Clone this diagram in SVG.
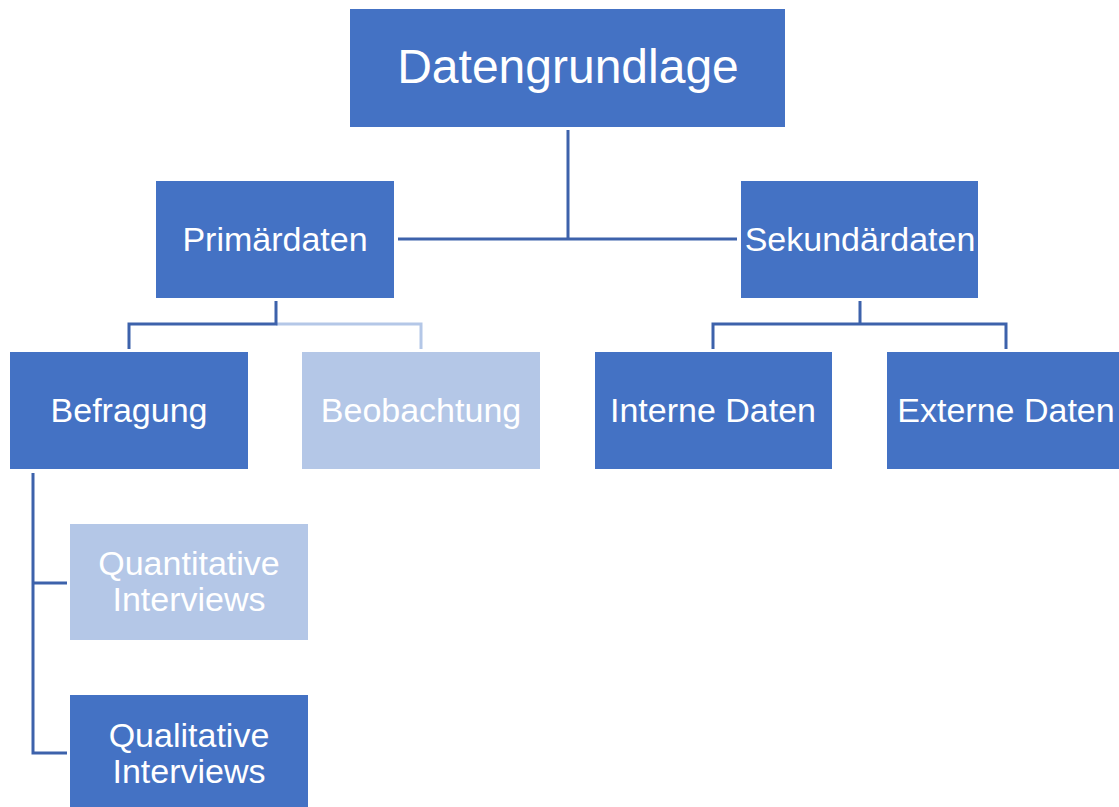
<svg xmlns="http://www.w3.org/2000/svg" width="1119" height="807" viewBox="0 0 1119 807">
<style>
.d{fill:#4472c4}
.l{fill:#b4c7e7}
text{font-family:"Liberation Sans",Arial,sans-serif;fill:#ffffff;text-anchor:middle;font-size:34px}
.c{fill:none;stroke:#3d62ab;stroke-width:3}
.cl{fill:none;stroke:#b4c7e7;stroke-width:3}
</style>
<rect width="1119" height="807" fill="#ffffff"/>
<g id="connectors">
<path class="c" d="M568,130 V239 M398,239 H737"/>
<path class="cl" d="M276,324 H421 V349"/>
<path class="c" d="M276,301 V324 H129 V349"/>
<path class="c" d="M860,301 V324 M713,349 V324 H1006 V349"/>
<path class="c" d="M33,473 V753 H67 M33,583 H67"/>
</g>
<g id="datengrundlage"><rect class="d" x="350" y="9" width="435" height="118"/><text x="568" y="83" style="font-size:48px">Datengrundlage</text></g>
<g id="primaerdaten"><rect class="d" x="156" y="181" width="238" height="117"/><text x="275" y="251">Primärdaten</text></g>
<g id="sekundaerdaten"><rect class="d" x="741" y="181" width="237" height="117"/><text x="860" y="251">Sekundärdaten</text></g>
<g id="befragung"><rect class="d" x="10" y="352" width="238" height="117"/><text x="129" y="422">Befragung</text></g>
<g id="beobachtung"><rect class="l" x="302" y="352" width="238" height="117"/><text x="421" y="422">Beobachtung</text></g>
<g id="interne"><rect class="d" x="595" y="352" width="237" height="117"/><text x="713" y="422">Interne Daten</text></g>
<g id="externe"><rect class="d" x="887" y="352" width="240" height="117"/><text x="1006" y="422">Externe Daten</text></g>
<g id="quantitative"><rect class="l" x="70" y="524" width="238" height="116"/><text x="189" y="575">Quantitative</text><text x="189" y="611">Interviews</text></g>
<g id="qualitative"><rect class="d" x="70" y="695" width="238" height="120"/><text x="189" y="747">Qualitative</text><text x="189" y="783">Interviews</text></g>
</svg>
